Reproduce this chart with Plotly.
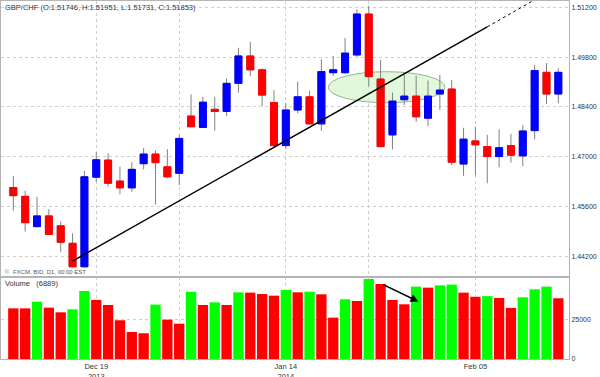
import plotly.graph_objects as go

# ---------------- data ----------------
dates = ["2013-12-10", "2013-12-11", "2013-12-12", "2013-12-13", "2013-12-16", "2013-12-17",
         "2013-12-18", "2013-12-19", "2013-12-20", "2013-12-23", "2013-12-24", "2013-12-26",
         "2013-12-27", "2013-12-30", "2013-12-31", "2014-01-02", "2014-01-03", "2014-01-06",
         "2014-01-07", "2014-01-08", "2014-01-09", "2014-01-10", "2014-01-13", "2014-01-14",
         "2014-01-15", "2014-01-16", "2014-01-17", "2014-01-20", "2014-01-21", "2014-01-22",
         "2014-01-23", "2014-01-24", "2014-01-27", "2014-01-28", "2014-01-29", "2014-01-30",
         "2014-01-31", "2014-02-03", "2014-02-04", "2014-02-05", "2014-02-06", "2014-02-07",
         "2014-02-10", "2014-02-11", "2014-02-12", "2014-02-13", "2014-02-14"]

opens = [1.4613, 1.4588, 1.4503, 1.4533, 1.4505, 1.4456, 1.4390, 1.4642, 1.4690, 1.4631,
         1.4612, 1.4680, 1.4707, 1.4671, 1.4653, 1.4814, 1.4782, 1.4833, 1.4827, 1.4906,
         1.4983, 1.4944, 1.4852, 1.4731, 1.4831, 1.4868, 1.4792, 1.4936, 1.4936, 1.4986,
         1.5101, 1.4918, 1.4761, 1.4860, 1.4870, 1.4808, 1.4876, 1.4890, 1.4679, 1.4744,
         1.4728, 1.4700, 1.4731, 1.4702, 1.4773, 1.4937, 1.4876]
highs = [1.4645, 1.4604, 1.4587, 1.4552, 1.4517, 1.4484, 1.4660, 1.4712, 1.4709, 1.4671,
         1.4684, 1.4724, 1.4717, 1.4721, 1.4761, 1.4875, 1.4868, 1.4868, 1.4920, 1.5006,
         1.5023, 1.4948, 1.4887, 1.4850, 1.4911, 1.4885, 1.4974, 1.4983, 1.5034, 1.5114,
         1.5124, 1.4972, 1.4880, 1.4932, 1.4927, 1.4914, 1.4930, 1.4915, 1.4781, 1.4784,
         1.4761, 1.4777, 1.4764, 1.4788, 1.4958, 1.4963, 1.4948]
lows = [1.4548, 1.4489, 1.4500, 1.4480, 1.4432, 1.4388, 1.4387, 1.4629, 1.4615, 1.4594,
        1.4601, 1.4664, 1.4565, 1.4639, 1.4620, 1.4783, 1.4780, 1.4773, 1.4814, 1.4880,
        1.4927, 1.4842, 1.4727, 1.4721, 1.4822, 1.4790, 1.4773, 1.4927, 1.4932, 1.4981,
        1.4897, 1.4726, 1.4720, 1.4845, 1.4798, 1.4786, 1.4831, 1.4676, 1.4646, 1.4648,
        1.4625, 1.4670, 1.4683, 1.4673, 1.4749, 1.4848, 1.4850]
closes = [1.4590, 1.4514, 1.4533, 1.4481, 1.4459, 1.4390, 1.4643, 1.4691, 1.4625, 1.4612,
          1.4664, 1.4707, 1.4683, 1.4643, 1.4751, 1.4784, 1.4853, 1.4827, 1.4906, 1.4983,
          1.4944, 1.4873, 1.4731, 1.4831, 1.4868, 1.4792, 1.4939, 1.4944, 1.4991, 1.5101,
          1.4925, 1.4728, 1.4856, 1.4870, 1.4812, 1.4870, 1.4887, 1.4684, 1.4749, 1.4733,
          1.4700, 1.4725, 1.4704, 1.4772, 1.4942, 1.4876, 1.4937]
volumes = [31900, 31900, 36100, 32350, 29400, 31300, 42850, 37200, 34000, 24400,
           17000, 16200, 34250, 24800, 22250, 42250, 34000, 35700, 34000, 42000,
           41800, 40950, 39900, 43500, 42000, 42400, 40750, 26050, 37600, 36550,
           50400, 47250, 37200, 34450, 45600, 44950, 46400, 46850, 41800, 39200,
           39600, 38450, 32150, 38850, 43900, 45600, 38250]

price_ticks = [1.442, 1.456, 1.470, 1.484, 1.498, 1.512]
volume_ticks = [0, 25000]
volume_ticktext = ["0", "25000"]
grid_dates = ["2013-12-19", "2013-12-31", "2014-01-14", "2014-01-23", "2014-02-05"]
grid_labels = ["Dec 19<br>2013", "", "Jan 14<br>2014", "", "Feb 05"]

# drawn annotations (trend line, ellipse, arrow)
trend_dates = ["2013-12-17", "2014-02-06"]
trend_prices = [1.4406, 1.5065]
trend_ext_dates = ["2014-02-06", "2014-02-12"]
trend_ext_prices = [1.5065, 1.5141]
ellipse_x = [26.58, 36.43]
ellipse_y = [1.48515, 1.49388]
arrow_from = (31.1, 47300)
arrow_to = (34.2, 36100)

title_text = "GBP/CHF (O:1.51746, H:1.51951, L:1.51731, C:1.51853)"
source_text = "FXCM, BID, D1, 00:00 EST"
volume_text = "Volume\u00a0\u00a0\u00a0(6889)"

# ---------------- style ----------------
UP = "#0000FF"
DOWN = "#FF0000"
WICK = "#808080"
VUP = "#00FF00"
VDOWN = "#FF0000"
GRID = "#cfcfcf"
BORDER = "#b4b4b4"
TXT = "#333333"
FONT = "Liberation Sans, Arial, sans-serif"

vol_colors = [VDOWN] + [VUP if volumes[i] > volumes[i - 1] else VDOWN
                        for i in range(1, len(volumes))]
body_hi = [max(o, c) for o, c in zip(opens, closes)]
body_lo = [min(o, c) for o, c in zip(opens, closes)]

fig = go.Figure()
# wicks
fig.add_trace(go.Candlestick(
    x=dates, open=opens, high=highs, low=lows, close=closes,
    increasing=dict(line=dict(color=WICK, width=1), fillcolor=UP),
    decreasing=dict(line=dict(color=WICK, width=1), fillcolor=DOWN),
    whiskerwidth=0, hoverinfo="skip", showlegend=False, xaxis="x", yaxis="y"))
# bodies
fig.add_trace(go.Candlestick(
    x=dates, open=opens, high=body_hi, low=body_lo, close=closes,
    increasing=dict(line=dict(color=UP, width=1), fillcolor=UP),
    decreasing=dict(line=dict(color=DOWN, width=1), fillcolor=DOWN),
    whiskerwidth=0, showlegend=False, xaxis="x", yaxis="y"))
# trend line
fig.add_trace(go.Scatter(x=trend_dates, y=trend_prices, mode="lines",
                         line=dict(color="#000000", width=1.4),
                         showlegend=False, hoverinfo="skip", xaxis="x", yaxis="y"))
fig.add_trace(go.Scatter(x=trend_ext_dates, y=trend_ext_prices, mode="lines",
                         line=dict(color="#000000", width=1, dash="dot"),
                         showlegend=False, hoverinfo="skip", xaxis="x", yaxis="y"))
# volume
fig.add_trace(go.Bar(x=dates, y=volumes, marker=dict(color=vol_colors, line=dict(width=0)),
                     showlegend=False, xaxis="x2", yaxis="y2"))

axis_common = dict(type="category", range=[-1.04, 46.9], tickvals=grid_dates,
                   showgrid=True, gridcolor=GRID, griddash="dot", gridwidth=1,
                   showline=True, linecolor=BORDER, linewidth=1, mirror=True,
                   ticks="", zeroline=False, fixedrange=True, automargin=False)

yaxis_common = dict(side="right", showgrid=True, gridcolor=GRID, griddash="dot",
                    gridwidth=1, showline=True, linecolor=BORDER, linewidth=1,
                    mirror=True, ticks="", zeroline=False, automargin=False,
                    fixedrange=True, tickfont=dict(family=FONT, size=7, color=TXT))

fig.update_layout(
    template="none",
    width=600, height=377,
    margin=dict(l=1, r=31, t=1, b=18, pad=0),
    paper_bgcolor="white", plot_bgcolor="white",
    font=dict(family=FONT, size=7.5, color=TXT),
    boxgap=0.16, bargap=0.13,
    showlegend=False,
    xaxis=dict(axis_common, anchor="y", showticklabels=False,
               rangeslider=dict(visible=False)),
    xaxis2=dict(axis_common, anchor="y2", matches="x", showticklabels=True,
                ticktext=grid_labels, tickangle=0,
                tickfont=dict(family=FONT, size=7.5, color=TXT)),
    yaxis=dict(yaxis_common, domain=[0.229, 1], range=[1.43611, 1.51377],
               tickvals=price_ticks, tickformat=".5f"),
    yaxis2=dict(yaxis_common, domain=[0, 0.229], range=[0, 51640],
                tickvals=volume_ticks, ticktext=volume_ticktext),
    shapes=[
        dict(type="circle", xref="x", yref="y", x0=ellipse_x[0], x1=ellipse_x[1],
             y0=ellipse_y[0], y1=ellipse_y[1], layer="between",
             fillcolor="rgba(215,245,205,0.75)", line=dict(color="#8fb88a", width=1)),
        dict(type="rect", xref="paper", yref="paper", x0=0.006, x1=0.014,
             y0=0.239, y1=0.25, fillcolor="#d8d8d8", line=dict(width=0)),
    ],
    annotations=[
        dict(text=title_text, xref="paper", yref="paper", x=0.003, y=1.0,
             xanchor="left", yanchor="top", showarrow=False,
             font=dict(family=FONT, size=7.5, color=TXT)),
        dict(text=source_text, xref="paper", yref="paper", x=0.018, y=0.229,
             xanchor="left", yanchor="bottom", showarrow=False,
             font=dict(family=FONT, size=6, color="#555555")),
        dict(text=volume_text, xref="paper", yref="paper", x=0.003, y=0.229,
             xanchor="left", yanchor="top", showarrow=False,
             font=dict(family=FONT, size=7.5, color=TXT)),
        dict(text="", xref="x2", yref="y2", x=arrow_to[0], y=arrow_to[1],
             axref="x2", ayref="y2", ax=arrow_from[0], ay=arrow_from[1],
             showarrow=True, arrowhead=2, arrowsize=1, arrowwidth=1.6,
             arrowcolor="#000000"),
    ],
)

fig.write_html("out.html",
               config={"displayModeBar": False, "staticPlot": True},
               post_script="document.body.style.margin='0px';"
                           "document.body.style.overflow='hidden';")
